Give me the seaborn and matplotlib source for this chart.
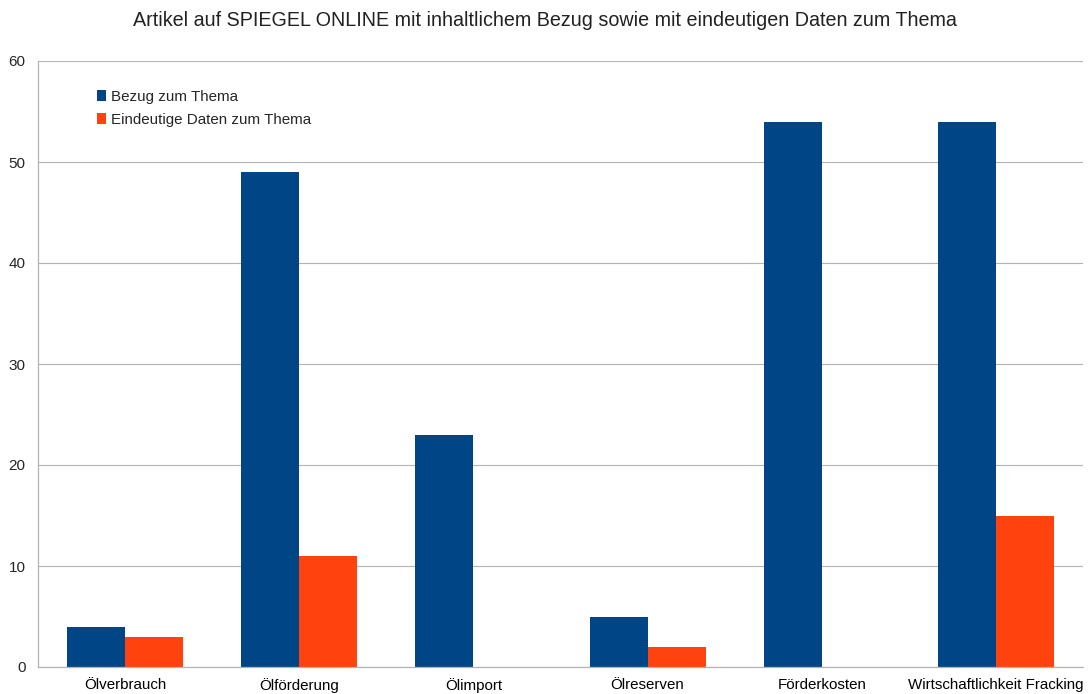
import matplotlib
matplotlib.use("Agg")
import matplotlib.pyplot as plt
import seaborn as sns
import pandas as pd
import numpy as np

categories = ["Ölverbrauch", "Ölförderung", "Ölimport", "Ölreserven",
              "Förderkosten", "Wirtschaftlichkeit Fracking"]
bezug = [4, 49, 23, 5, 54, 54]
eindeutig = [3, 11, 0, 2, 0, 15]
series_names = ["Bezug zum Thema", "Eindeutige Daten zum Thema"]
colors = ["#004586", "#ff420e"]
yticks = [0, 10, 20, 30, 40, 50, 60]
title = "Artikel auf SPIEGEL ONLINE mit inhaltlichem Bezug sowie mit eindeutigen Daten zum Thema"

df = pd.DataFrame({
    "Kategorie": categories * 2,
    "Anzahl": bezug + eindeutig,
    "Serie": [series_names[0]] * len(categories) + [series_names[1]] * len(categories),
})

sns.set_theme(style="white")
plt.rcParams["font.family"] = ["Liberation Sans", "DejaVu Sans"]

fig = plt.figure(figsize=(10.9, 6.94), dpi=100)
ax = fig.add_axes([38 / 1090, 27 / 694, (1083 - 38) / 1090, (667 - 61) / 694])

sns.barplot(data=df, x="Kategorie", y="Anzahl", hue="Serie", order=categories,
            hue_order=series_names, palette=colors, width=2 / 3, gap=0,
            saturation=1, linewidth=0, ax=ax)

ax.set_xlim(-0.5, len(categories) - 0.5)
ax.set_ylim(0, 60)
ax.set_yticks(yticks)
ax.yaxis.grid(True, color="#b3b3b3", linewidth=0.8)
ax.set_axisbelow(True)
ax.set_xlabel("")
ax.set_ylabel("")

for side in ["top", "right"]:
    ax.spines[side].set_visible(False)
for side in ["left", "bottom"]:
    ax.spines[side].set_color("#b3b3b3")
    ax.spines[side].set_linewidth(0.9)

ax.tick_params(axis="x", which="major", length=0, labelsize=10.9, pad=8, colors="black")
ax.set_xticks(np.arange(-0.5, len(categories), 1.0), minor=True)
ax.tick_params(axis="x", which="minor", length=5, color="#b3b3b3", width=0.9, direction="out")
ax.tick_params(axis="y", length=5, color="#b3b3b3", width=0.9, labelsize=11, pad=4)

leg = ax.legend(loc="upper left", bbox_to_anchor=(0.043, 0.975), frameon=False,
                fontsize=10.9, handlelength=0.65, handleheight=0.65, handletextpad=0.3,
                labelspacing=0.6)

fig.text(0.5, 0.971, title, ha="center", va="center", fontsize=14.2, color="#222222")

fig.savefig("out.png", dpi=100)
